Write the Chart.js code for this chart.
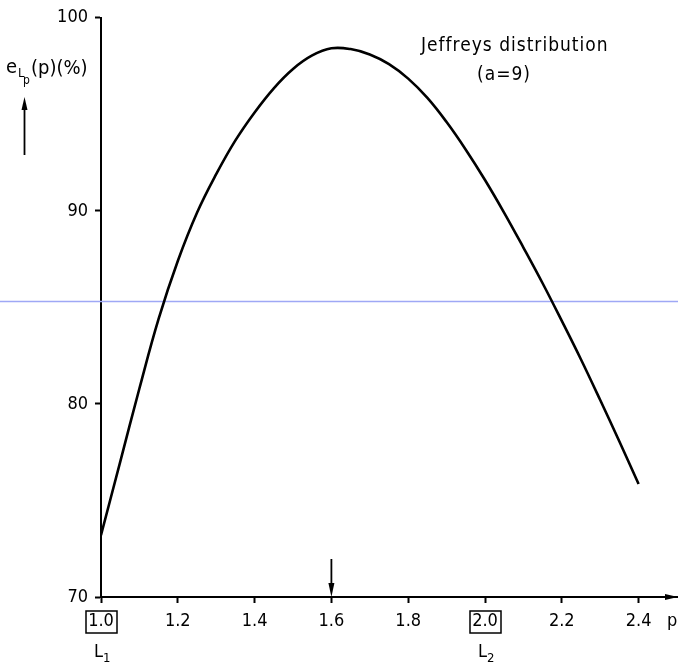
<!DOCTYPE html>
<html>
<head>
<meta charset="utf-8">
<script src="https://cdn.jsdelivr.net/npm/chart.js@4.4.1/dist/chart.umd.min.js"></script>
<style>
  html, body { margin: 0; padding: 0; background: #fff; }
  canvas { display: block; }
</style>
</head>
<body>
<canvas id="c" width="678" height="664"></canvas>
<script>
// Efficiency e_Lp(p) in percent against the exponent p
const pValues = [1.00, 1.05, 1.10, 1.15, 1.20, 1.25, 1.30, 1.35, 1.40, 1.45,
                 1.50, 1.55, 1.60, 1.65, 1.70, 1.75, 1.80, 1.85, 1.90, 1.95,
                 2.00, 2.05, 2.10, 2.15, 2.20, 2.25, 2.30, 2.35, 2.40];
const efficiency = [73.2, 77.0, 80.8, 84.4, 87.4, 89.9, 91.9, 93.65, 95.1, 96.35,
                    97.35, 98.05, 98.42, 98.38, 98.1, 97.6, 96.85, 95.85, 94.6, 93.17,
                    91.6, 89.9, 88.1, 86.25, 84.3, 82.3, 80.2, 78.05, 75.85];

const xTickValues = [1.0, 1.2, 1.4, 1.6, 1.8, 2.0, 2.2, 2.4];
const yTickValues = [70, 80, 90, 100];
const boxedTicks = [1.0, 2.0];          // L1 and L2 estimators
const boxedIndex = ['1', '2'];
const optimumP = 1.6;
const guideLevel = 85.35;
const noteLines = ['Jeffreys distribution', '(a=9)'];
const axisName = 'p';

const FONT = "'DejaVu Sans Condensed', 'Liberation Sans Narrow', 'Liberation Sans', sans-serif";
const INK = '#000';

function arrowHead(ctx, tipX, tipY, dir, len, half) {
  ctx.beginPath();
  if (dir === 'right') {
    ctx.moveTo(tipX, tipY); ctx.lineTo(tipX - len, tipY - half); ctx.lineTo(tipX - len, tipY + half);
  } else if (dir === 'down') {
    ctx.moveTo(tipX, tipY); ctx.lineTo(tipX - half, tipY - len); ctx.lineTo(tipX + half, tipY - len);
  } else {
    ctx.moveTo(tipX, tipY); ctx.lineTo(tipX - half, tipY + len); ctx.lineTo(tipX + half, tipY + len);
  }
  ctx.closePath();
  ctx.fill();
}

const decor = {
  id: 'decor',
  beforeDatasetsDraw(chart) {
    const { ctx, scales: { y } } = chart;
    const gy = Math.round(y.getPixelForValue(guideLevel)) + 0.5;
    ctx.save();
    ctx.strokeStyle = '#9fa8f5';
    ctx.lineWidth = 1.3;
    ctx.beginPath();
    ctx.moveTo(0, gy);
    ctx.lineTo(chart.width, gy);
    ctx.stroke();
    ctx.restore();
  },
  afterDraw(chart) {
    const { ctx, chartArea, scales: { x } } = chart;
    const base = chartArea.bottom;
    ctx.save();
    ctx.fillStyle = INK;
    ctx.strokeStyle = INK;
    ctx.textAlign = 'left';
    ctx.textBaseline = 'alphabetic';

    // arrowhead on the p axis
    arrowHead(ctx, chart.width, base, 'right', 13, 3);

    // marker of the optimum exponent
    const px = x.getPixelForValue(optimumP);
    ctx.lineWidth = 1.8;
    ctx.beginPath();
    ctx.moveTo(px, base - 38);
    ctx.lineTo(px, base - 8);
    ctx.stroke();
    arrowHead(ctx, px, base, 'down', 14, 3);

    // boxes round the L1 / L2 tick labels and their names
    ctx.lineWidth = 1.5;
    boxedTicks.forEach((v, i) => {
      const cx = x.getPixelForValue(v);
      ctx.strokeRect(cx - 15, base + 14, 31, 22);
      ctx.font = `18px ${FONT}`;
      ctx.fillText('L', cx - 7, base + 60);
      ctx.font = `13px ${FONT}`;
      ctx.fillText(boxedIndex[i], cx + 2, base + 65);
    });

    // axis name at the end of the p axis
    ctx.font = `18px ${FONT}`;
    ctx.fillText(axisName, 667, base + 29);

    // y axis title e_{L_p}(p)(%) with its arrow
    ctx.font = `20px ${FONT}`;
    ctx.fillText('e', 6, 73);
    ctx.font = `13px ${FONT}`;
    ctx.fillText('L', 18, 77);
    ctx.font = `12px ${FONT}`;
    ctx.fillText('p', 23, 84);
    ctx.font = `20px ${FONT}`;
    ctx.fillText('(p)(%)', 31, 74);
    ctx.lineWidth = 1.8;
    ctx.beginPath();
    ctx.moveTo(24.5, 155);
    ctx.lineTo(24.5, 106);
    ctx.stroke();
    arrowHead(ctx, 24.5, 97, 'up', 13, 3);

    // distribution note
    ctx.font = `19px ${FONT}`;
    ctx.letterSpacing = '1px';
    ctx.fillText(noteLines[0], 421, 51);
    ctx.fillText(noteLines[1], 477, 80);
    ctx.restore();
  }
};

new Chart(document.getElementById('c'), {
  type: 'scatter',
  data: {
    datasets: [{
      data: pValues.map((p, i) => ({ x: p, y: efficiency[i] })),
      showLine: true,
      borderColor: INK,
      borderWidth: 2.6,
      pointRadius: 0,
      tension: 0.4,
      fill: false
    }]
  },
  options: {
    responsive: false,
    devicePixelRatio: 1,
    animation: false,
    layout: { padding: { top: 15, right: 1, left: 0, bottom: 0 } },
    plugins: { legend: { display: false }, tooltip: { enabled: false } },
    scales: {
      x: {
        type: 'linear',
        min: 1.0,
        max: 2.5,
        afterBuildTicks: (s) => { s.ticks = xTickValues.map(v => ({ value: v })); },
        afterFit: (s) => { s.height = 67; },
        border: { display: true, color: INK, width: 2 },
        grid: { display: true, drawOnChartArea: false, drawTicks: true, tickLength: 6, tickWidth: 2, color: INK },
        ticks: {
          color: INK,
          padding: 8,
          maxRotation: 0,
          autoSkip: false,
          font: { family: FONT, size: 18 },
          callback: (v) => Number(v).toFixed(1)
        }
      },
      y: {
        min: 70,
        max: 100,
        afterBuildTicks: (s) => { s.ticks = yTickValues.map(v => ({ value: v })); },
        afterFit: (s) => { s.width = 101; },
        border: { display: true, color: INK, width: 2 },
        grid: { display: true, drawOnChartArea: false, drawTicks: true, tickLength: 6, tickWidth: 2, color: INK },
        ticks: {
          color: INK,
          padding: 7,
          font: { family: FONT, size: 18 }
        }
      }
    }
  },
  plugins: [decor]
});
</script>
</body>
</html>
